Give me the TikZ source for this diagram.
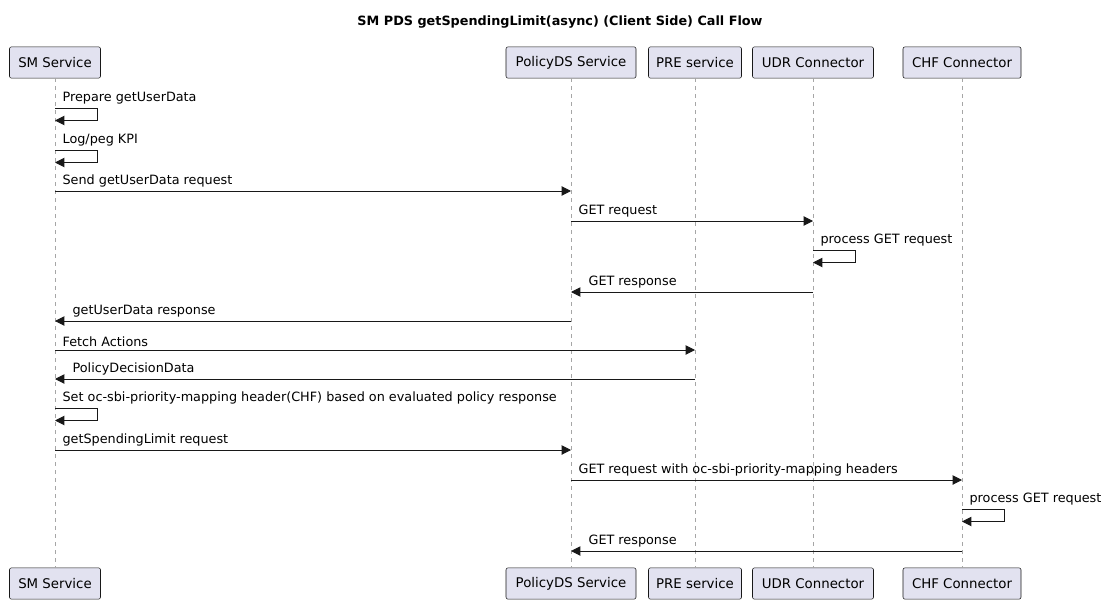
\documentclass[tikz,border=0pt]{standalone}
\usepackage{fontspec}
\setmainfont{DejaVu Sans}
\usetikzlibrary{calc,arrows.meta}
\definecolor{pfill}{HTML}{E2E2F0}
\definecolor{pline}{HTML}{181818}
\tikzset{
  part/.style={draw=pline,fill=pfill,rounded corners=1.5pt,minimum height=23.5pt,inner sep=0pt,font=\fontsize{10}{12}\selectfont,line width=0.4pt},
  life/.style={draw=gray!70,dash pattern=on 3pt off 3pt,line width=0.4pt},
  msg/.style={draw=pline,line width=0.75pt,-{Triangle[length=7pt,width=7pt,open=false,fill=pline]}},
  mtxt/.style={anchor=south west,inner sep=1pt,font=\fontsize{9.6}{11}\selectfont}
}
\begin{document}
\begin{tikzpicture}[x=0.75pt,y=-0.75pt]
\useasboundingbox (0,0) rectangle (1120,610);
\node[font=\bfseries\fontsize{9.6}{11}\selectfont] (title) at (560,22) {SM PDS getSpendingLimit(async) (Client Side) Call Flow};
% participants
\foreach \n/\x/\w/\t in {sm/55/91/SM Service, pds/571/130/PolicyDS Service, pre/695/93/PRE service, udr/813/121/UDR Connector, chf/962/118/CHF Connector}{
  \node[part,minimum width=\w*0.75pt] (\n t) at (\x,62.5) {\t};
  \node[part,minimum width=\w*0.75pt] (\n b) at (\x,583.5) {\t};
  \draw[life] (\n t.south) -- (\n b.north);
  \coordinate (\n) at (\x,0);
}
% self loop macro
\newcommand{\selfmsg}[3]{% lifeline, y, text
  \draw[msg] ($(#1)+(0,#2)$) -- ++(42,0) -- ++(0,12.5) -- ++(-42,0);
  \node[mtxt] at ($(#1)+(6,#2-2)$) {#3};
}
\newcommand{\rmsg}[4]{% from,to,y,text (left to right)
  \draw[msg] ($(#1)+(0,#3)$) -- ($(#2)+(0,#3)$);
  \node[mtxt] at ($(#1)+(6,#3-2)$) {#4};
}
\newcommand{\lmsg}[4]{% from,to,y,text (right to left)
  \draw[msg] ($(#1)+(0,#3)$) -- ($(#2)+(0,#3)$);
  \node[mtxt] at ($(#2)+(16,#3-2)$) {#4};
}
\selfmsg{sm}{108}{Prepare getUserData}
\selfmsg{sm}{150}{Log/peg KPI}
\rmsg{sm}{pds}{191}{Send getUserData request}
\rmsg{pds}{udr}{221}{GET request}
\selfmsg{udr}{250}{process GET request}
\lmsg{udr}{pds}{292}{GET response}
\lmsg{pds}{sm}{321}{getUserData response}
\rmsg{sm}{pre}{350}{Fetch Actions}
\lmsg{pre}{sm}{379}{PolicyDecisionData}
\selfmsg{sm}{408}{Set oc-sbi-priority-mapping header(CHF) based on evaluated policy response}
\rmsg{sm}{pds}{450}{getSpendingLimit request}
\rmsg{pds}{chf}{480}{GET request with oc-sbi-priority-mapping headers}
\selfmsg{chf}{509}{process GET request}
\lmsg{chf}{pds}{551}{GET response}
\end{tikzpicture}
\end{document}
